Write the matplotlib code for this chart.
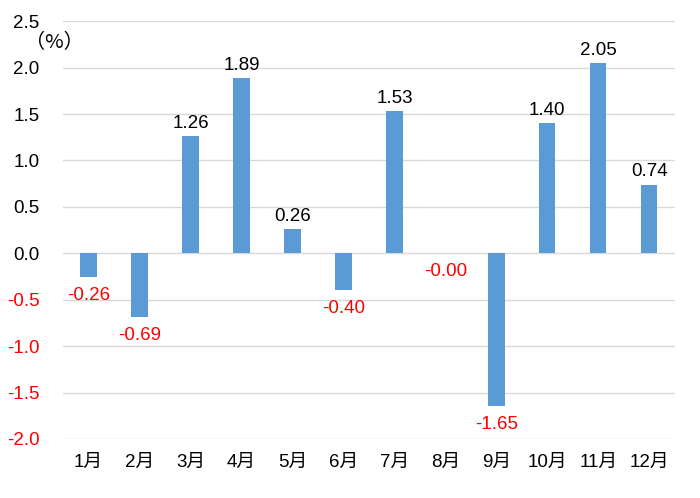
import matplotlib.pyplot as plt
import numpy as np

plt.rcParams['font.family'] = ['Liberation Sans', 'Noto Sans CJK JP', 'DejaVu Sans']

months = ['1月', '2月', '3月', '4月', '5月', '6月', '7月', '8月', '9月', '10月', '11月', '12月']
values = [-0.26, -0.69, 1.26, 1.89, 0.26, -0.40, 1.53, -0.00, -1.65, 1.40, 2.05, 0.74]
yticks = [2.5, 2.0, 1.5, 1.0, 0.5, 0.0, -0.5, -1.0, -1.5, -2.0]

fig = plt.figure(figsize=(7.0, 4.98), dpi=100)
ax = fig.add_axes([0.09, 0.1185, 0.874, 0.839])

x = np.arange(len(months))
ax.bar(x, values, width=0.32, color='#5B9BD5', zorder=3)

for xi, v in zip(x, values):
    if v > 0:
        ax.annotate(f'{v:.2f}', (xi, v), xytext=(0, 3), textcoords='offset points',
                    ha='center', va='bottom', fontsize=13.5, color='black')
    else:
        ax.annotate(f'{v:.2f}' if v != 0 else '-0.00', (xi, v), xytext=(0, -7),
                    textcoords='offset points', ha='center', va='top',
                    fontsize=13.5, color='red')

ax.set_xlim(-0.5, len(months) - 0.5)
ax.set_ylim(-2.0, 2.5)
ax.set_yticks(yticks)
ax.set_yticklabels([f'{t:.1f}' for t in yticks], fontsize=13.5)
for lbl, t in zip(ax.get_yticklabels(), yticks):
    lbl.set_color('red' if t < 0 else 'black')
ax.set_xticks(x)
ax.set_xticklabels(months, fontsize=13.5)
ax.tick_params(axis='both', length=0)
ax.tick_params(axis='x', pad=11)
ax.tick_params(axis='y', pad=17)
ax.grid(axis='y', color='#D9D9D9', linewidth=1, zorder=0)
for s in ax.spines.values():
    s.set_visible(False)

fig.text(0.036, 0.915, '（%）', fontsize=14.5, ha='left', va='center',
         family=['Noto Sans CJK JP', 'DejaVu Sans'])

fig.savefig('out.png', dpi=100)
